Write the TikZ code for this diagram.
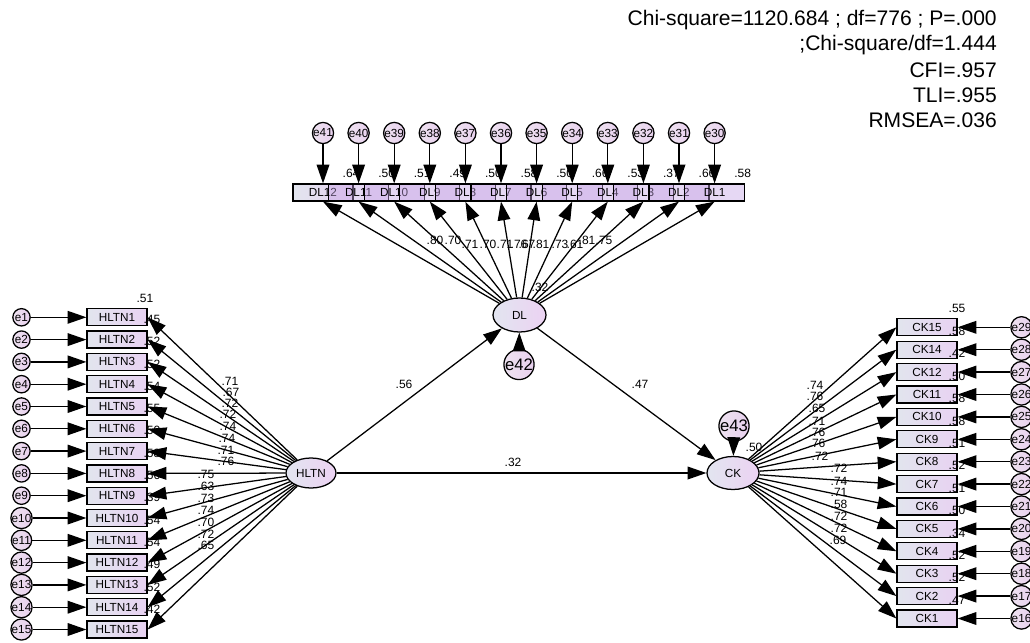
\documentclass[tikz,border=0pt]{standalone}
\usepackage{fontspec}
\setmainfont{Liberation Sans}
\usetikzlibrary{shapes.geometric,arrows.meta}
\definecolor{boxL}{HTML}{E2E5EE}
\definecolor{boxR}{HTML}{E8D2F2}
\definecolor{latL}{HTML}{E2E5F0}
\definecolor{latR}{HTML}{ECD2F2}
\definecolor{errL}{HTML}{EEE2F0}
\definecolor{errR}{HTML}{E8D0EE}
\definecolor{dlFill}{HTML}{C4A2E4}
\begin{document}
\begin{tikzpicture}[x=0.75pt,y=-0.75pt,
  txt/.style={font=\fontsize{8.8}{9}\selectfont, inner sep=0pt},
  obs/.style={draw, line width=0.95pt, rectangle, minimum width=45pt,
    minimum height=12.75pt, inner sep=0pt, left color=boxL, right color=boxR, txt},
  dlbox/.style={draw, line width=0.95pt, rectangle, minimum width=45pt,
    minimum height=12.75pt, inner sep=0pt, fill=dlFill, fill opacity=0.42,
    text opacity=1, txt},
  err/.style={draw, line width=0.95pt, circle, minimum size=13pt, inner sep=0pt,
    left color=errL, right color=errR, txt},
  bigerr/.style={err, minimum size=20pt, font=\fontsize{12.5}{13}\selectfont},
  lat/.style={draw, line width=0.95pt, ellipse, inner sep=0pt, left color=latL,
    right color=latR, font=\fontsize{8.8}{9}\selectfont},
  arr/.style={line width=0.95pt, -{Triangle[length=14pt,width=9.5pt]}},
  val/.style={inner sep=0pt, font=\fontsize{9}{9}\selectfont},
  stat/.style={anchor=east, inner sep=0pt, font=\fontsize{15.8}{18}\selectfont},
]
\useasboundingbox (0,0) rectangle (1030,642);

% fit statistics
\node[stat] (s1) at (997,20) {Chi-square=1120.684 ; df=776 ; P=.000};
\node[stat] (s2) at (997,45) {;Chi-square/df=1.444};
\node[stat] (s3) at (997,70) {CFI=.957};
\node[stat] (s4) at (997,95) {TLI=.955};
\node[stat] (s5) at (997,120) {RMSEA=.036};

% latent variables
\node[lat, minimum width=37.5pt, minimum height=22.5pt] (HLTN) at (311,473) {HLTN};
\node[lat, minimum width=39.75pt, minimum height=25.5pt] (DL) at (519.5,315) {DL};
\node[lat, minimum width=39pt, minimum height=24.75pt] (CK) at (733,473) {CK};
\node[bigerr] (e42) at (519,364.5) {e42};
\node[bigerr] (e43) at (734,426) {e43};

% HLTN indicators
\foreach \i in {1,...,15} {
  \node[err] (e\i) at (21.5,{317.3+22.3*(\i-1)}) {e\i};
  \node[obs] (h\i) at (117,{317.3+22.3*(\i-1)}) {HLTN\i};
}
\node[val] (rh1) at (145,298) {.51};
\foreach \v [count=\i] in {.45,.52,.52,.54,.55,.50,.58,.56,.39,.54,.54,.49,.52,.42}
  \node[val] (rh\i x) at (152,{317.3+22.3*(\i-1)+2}) {\v};

% CK indicators
\foreach \c [count=\i] in {15,14,12,11,10,9,8,7,6,5,4,3,2,1} {
  \pgfmathtruncatemacro\ee{30-\i}
  \node[obs] (c\c) at (927,{327.3+22.4*(\i-1)}) {CK\c};
  \node[err] (e\ee) at (1021.5,{327.3+22.4*(\i-1)}) {e\ee};
}
\node[val] (rc0) at (957,308) {.55};
\foreach \v [count=\i] in {.58,.42,.50,.58,.58,.51,.52,.51,.50,.34,.52,.52,.47}
  \node[val] (rc\i) at (957,{327.3+22.4*(\i-1)+4}) {\v};

% DL indicators: an overlapping row, the first box opaque, the rest translucent
\node[obs] (d12) at (323,192.5) {DL12};
\node[err] (e41) at (323,133) {e41};
\foreach \n [count=\j] in {11,10,...,1} {
  \pgfmathtruncatemacro\ee{29+\n}
  \node[dlbox] (d\n) at ({323+35.6*\j},192.5) {DL\n};
  \node[err] (e\ee) at ({323+35.6*\j},133) {e\ee};
}
\foreach \v [count=\j from 0] in {.64,.50,.51,.49,.50,.58,.50,.66,.53,.37,.66,.58}
  \node[val] (rd\j) at ({351+35.6*\j},173) {\v};

% loadings
\foreach \v/\x/\y [count=\k] in {.71/230/381.7,.67/231/392.3,.72/230/403.3,.72/228/414.3,
  .74/228/426.7,.74/227/438.3,.71/226/450,.76/226/461.7,.75/206/474.3,.63/206/486.7,
  .73/206/498.3,.74/206/510.7,.70/206/522.7,.72/206/534,.65/206/545.7}
  \node[val] (lh\k) at (\x,\y) {\v};
\foreach \v/\x/\y [count=\k] in {.74/815/385,.76/815/396,.65/817/408,.71/817/421,
  .76/817/432,.76/817/443,.72/820/456,.72/839/468,.74/839/481,.71/839/492,
  .58/839/504,.72/839/516,.72/839/528,.69/838/540}
  \node[val] (lc\k) at (\x,\y) {\v};
\foreach \v/\x/\y [count=\k] in {.80/435/240,.70/453/240,.71/470/244,.70/488/244,
  .71/505/244,.76/519/244,.67/527/244,.81/541/244,.73/560/244,.61/575/244,
  .81/587/240,.75/604/240}
  \node[val] (ld\k) at (\x,\y) {\v};

% structural paths
\node[val] (p1) at (404,384) {.56};
\node[val] (p2) at (640,384) {.47};
\node[val] (p3) at (513,462) {.32};
\node[val] (r1) at (540,287) {.32};
\node[val] (r2) at (754,447) {.50};

% arrows
\foreach \i in {1,...,15} {
  \draw[arr] (e\i) -- (h\i.west);
  \draw[arr] (HLTN) -- (h\i.east);
}
\foreach \c [count=\i] in {15,14,12,11,10,9,8,7,6,5,4,3,2,1} {
  \pgfmathtruncatemacro\ee{30-\i}
  \draw[arr] (e\ee) -- (c\c.east);
  \draw[arr] (CK) -- (c\c.west);
}
\foreach \n in {12,11,...,1} {
  \pgfmathtruncatemacro\ee{29+\n}
  \draw[arr] (e\ee) -- (d\n.north);
  \draw[arr] (DL) -- (d\n.south);
}
\draw[arr] (HLTN) -- (DL);
\draw[arr] (DL) -- (CK);
\draw[arr] (HLTN) -- (CK);
\draw[arr] (e42) -- (DL);
\draw[arr] (e43) -- (CK);
\end{tikzpicture}
\end{document}
